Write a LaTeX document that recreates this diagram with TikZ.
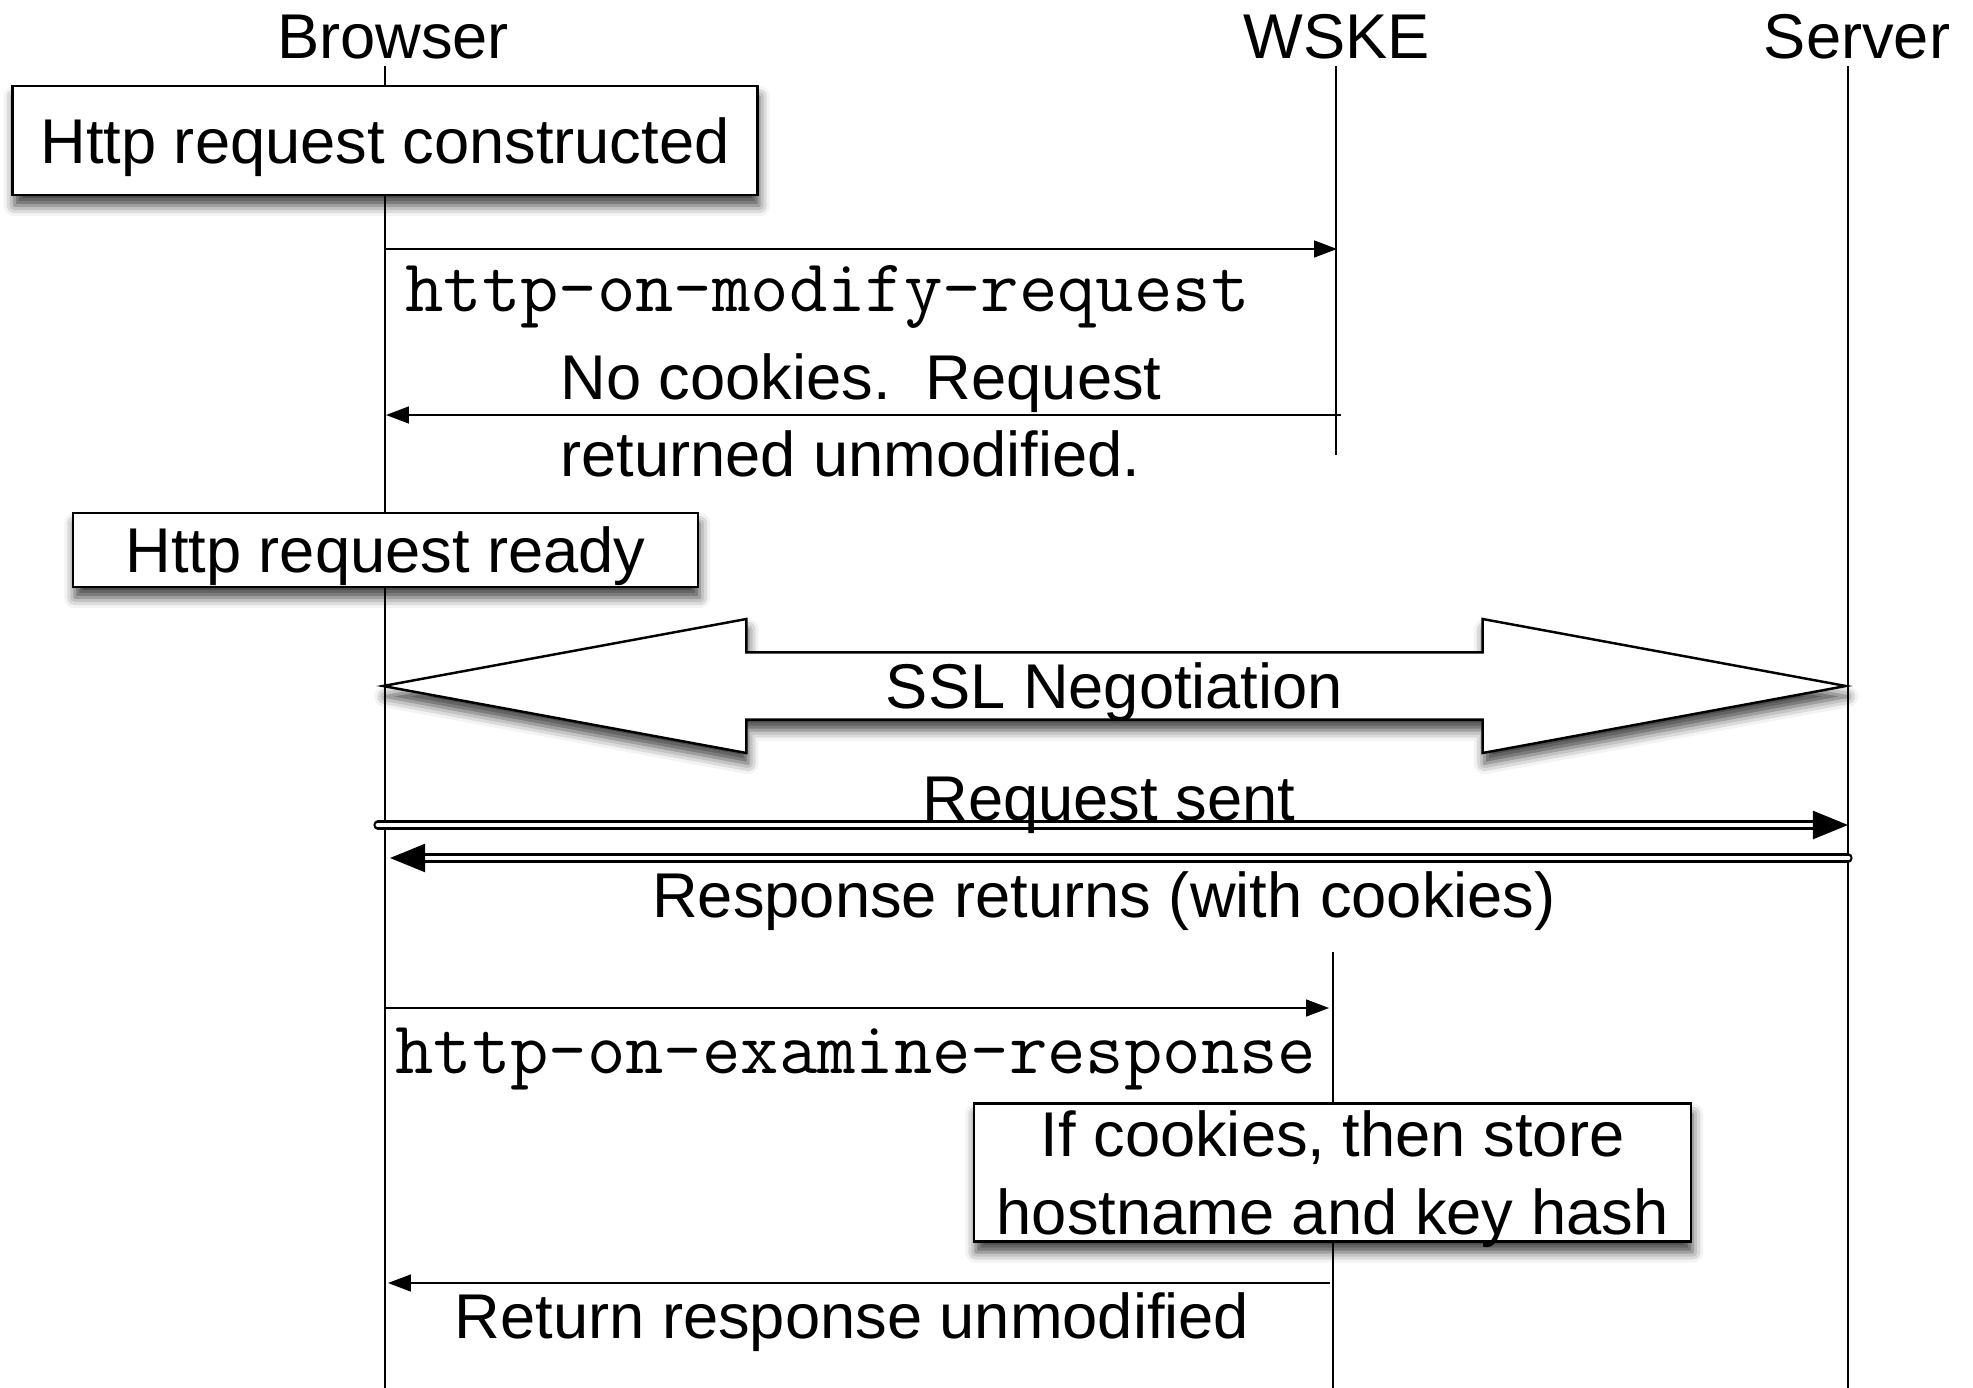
\documentclass[tikz,border=0pt]{standalone}
\usepackage{fontspec}
\setmainfont{Liberation Sans}
\usetikzlibrary{arrows.meta,shapes.arrows,shadows.blur}

\tikzset{
  lbl/.style={font=\fontsize{36}{44}\selectfont, inner sep=0pt},
  actor/.style={lbl, anchor=base},
  hook/.style={font=\ttfamily\fontsize{42.4}{48}\selectfont, inner sep=0pt, anchor=base west},
  lifeline/.style={line width=0.9pt},
  msg/.style={line width=0.9pt, -{Triangle[length=13pt,width=9.6pt]}},
  wire/.style={double, double distance=2.8pt, line width=1.25pt, line cap=round,
    -{Triangle[length=20pt,width=16pt]}},
  dropshade/.style={blur shadow={shadow xshift=1pt, shadow yshift=-6pt,
    shadow blur radius=6pt, shadow opacity=75}},
  box/.style={lbl, draw, line width=1.4pt, fill=white, dropshade, text depth=0pt, align=center}
}

\begin{document}
\begin{tikzpicture}[x=0.02cm, y=-0.02cm]
\useasboundingbox (0,0) rectangle (1973,1388);

% participants
\node[actor] (browser) at (393,59) {Browser};
\node[actor] (wske) at (1337,59) {WSKE};
\node[actor] (server) at (1857,59) {Server};

% lifelines
\coordinate (browserTop) at (385,66);
\coordinate (browserEnd) at (385,1388);
\coordinate (wskeTop) at (1336,66);
\coordinate (wskeStop) at (1336,455);
\coordinate (wskeBack) at (1333,952);
\coordinate (wskeEnd) at (1333,1388);
\coordinate (serverTop) at (1848,66);
\coordinate (serverEnd) at (1848,1388);
\draw[lifeline] (browserTop) -- (browserEnd);
\draw[lifeline] (wskeTop) -- (wskeStop);
\draw[lifeline] (wskeBack) -- (wskeEnd);
\draw[lifeline] (serverTop) -- (serverEnd);

% request building
\node[box, minimum width=14.9cm, minimum height=2.18cm] (built) at (385,140.5) {Http request constructed};

\coordinate (modB) at (385,249);
\coordinate (modW) at (1337,249);
\draw[msg] (modB) -- (modW);
\node[hook] (modLbl) at (405,312) {http-on-modify-request};

\coordinate (noW) at (1341,415);
\coordinate (noB) at (386,415);
\draw[msg] (noW) -- (noB);
\node[lbl, anchor=north west, align=left] (noLbl) at (560,353) {No cookies.\ \ Request\\returned unmodified.};

\node[box, minimum width=12.5cm, minimum height=1.48cm] (ready) at (385.5,550) {Http request ready};

% ssl
\node[lbl, double arrow, draw, fill=white, line width=1.4pt, dropshade, text depth=0pt,
  inner xsep=0pt, inner ysep=5.2pt, minimum height=29.26cm, minimum width=2.68cm,
  double arrow head extend=0.66cm, double arrow tip angle=20.9] (ssl) at (1114.5,686) {SSL Negotiation};

% request / response
\coordinate (sendB) at (378,825);
\coordinate (sendS) at (1848,825);
\draw[wire] (sendB) -- (sendS);
\node[lbl, anchor=base] (sendLbl) at (1109,820) {Request sent};

\coordinate (respS) at (1848,858);
\coordinate (respB) at (390,858);
\draw[wire] (respS) -- (respB);
\node[lbl, anchor=base] (respLbl) at (1104,917) {Response returns (with cookies)};

% response handling
\coordinate (examB) at (385,1008);
\coordinate (examW) at (1329,1008);
\draw[msg] (examB) -- (examW);
\node[hook] (examLbl) at (395,1073) {http-on-examine-response};

\node[box, minimum width=14.34cm, minimum height=2.76cm] (store) at (1332.5,1172.5) {If cookies, then store\\hostname and key hash};

\coordinate (retW) at (1330,1283);
\coordinate (retB) at (388,1283);
\draw[msg] (retW) -- (retB);
\node[lbl, anchor=base] (retLbl) at (852,1338) {Return response unmodified};
\end{tikzpicture}
\end{document}
